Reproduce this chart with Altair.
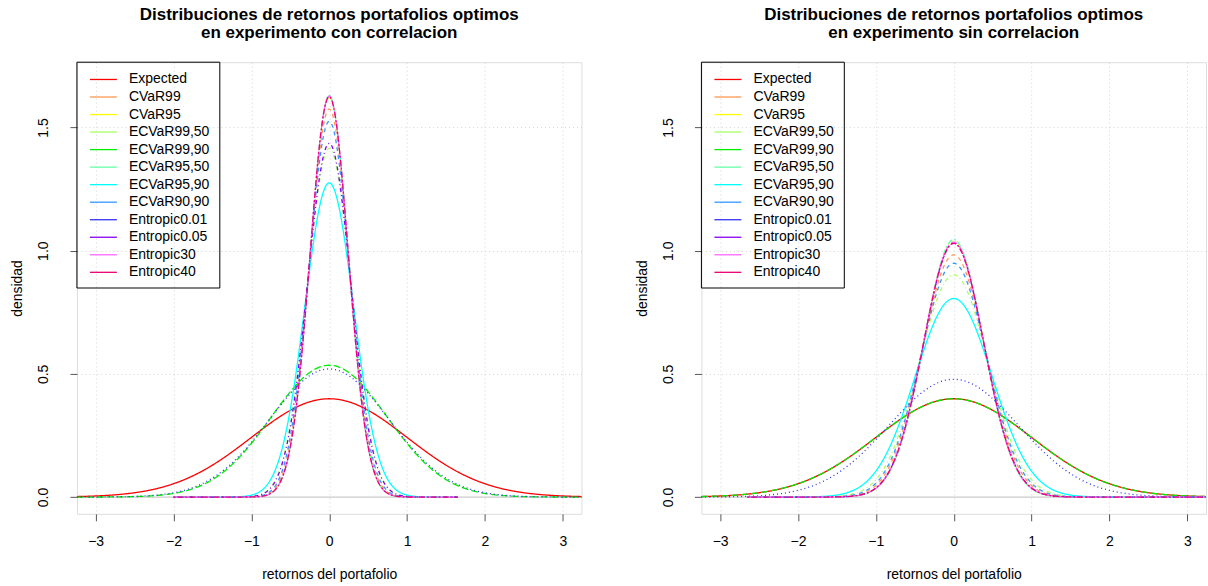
import numpy as np
import pandas as pd
import altair as alt

FONT = "Liberation Sans"

series = ["Expected", "CVaR99", "CVaR95", "ECVaR99,50", "ECVaR99,90", "ECVaR95,50",
          "ECVaR95,90", "ECVaR90,90", "Entropic0.01", "Entropic0.05", "Entropic30", "Entropic40"]
colors = ["#FF0000", "#FF9955", "#FFFF00", "#AAFF66", "#00EE00", "#66FFAA",
          "#00FFFF", "#3399FF", "#3333EE", "#8800EE", "#FF66FF", "#EE0077"]
dashes = [[1, 0], [4, 4], [1, 3], [1, 3, 4, 3], [7, 3], [2, 2, 6, 2],
          [1, 0], [4, 4], [1, 3], [1, 3, 4, 3], [7, 3], [2, 2, 6, 2]]

# peak density of each (normal-shaped) curve
peak_con = [0.399, 1.575, 1.62, 1.415, 0.535, 1.63, 1.275, 1.525, 0.52, 1.435, 1.627, 1.625]
peak_sin = [0.399, 0.983, 1.04, 0.902, 0.399, 1.045, 0.806, 0.949, 0.478, 1.03, 1.035, 1.03]
# x extent over which each curve is drawn
xmin_con = [-3.5, -2.0, -2.0, -2.0, -3.5, -2.0, -2.0, -2.0, -3.5, -2.0, -2.0, -2.0]
xmax_con = [3.5, 1.65, 1.65, 1.65, 3.5, 1.65, 1.65, 1.65, 3.5, 1.65, 1.65, 1.65]
xmin_sin = [-3.5, -2.65, -2.65, -2.65, -3.5, -2.65, -2.65, -2.65, -3.5, -2.65, -2.65, -2.65]
xmax_sin = [3.5, 3.5, 3.5, 3.5, 3.5, 3.5, 3.5, 3.5, 3.5, 3.5, 3.5, 3.5]

x_ticks = [-3, -2, -1, 0, 1, 2, 3]
y_ticks = [0, 0.5, 1.0, 1.5]

title_line1 = "Distribuciones de retornos portafolios optimos"
titles2 = ["en experimento con correlacion", "en experimento sin correlacion"]

W, H = 505, 452


def curves(peaks, xmins, xmaxs):
    rows = []
    for s, p, a, b in zip(series, peaks, xmins, xmaxs):
        sd = 1.0 / (p * np.sqrt(2 * np.pi))
        for x in np.linspace(a, b, 500):
            rows.append({"series": s, "x": float(x), "y": float(p * np.exp(-0.5 * (x / sd) ** 2))})
    return pd.DataFrame(rows)


cscale = alt.Scale(domain=series, range=colors)
dscale = alt.Scale(domain=series, range=dashes)
xscale = alt.Scale(domain=[-3.24, 3.24], nice=False, zero=False)
yscale = alt.Scale(domain=[-0.068, 1.765], nice=False, zero=False)


def panel(peaks, xmins, xmaxs, sub):
    df = curves(peaks, xmins, xmaxs)
    xaxis = alt.Axis(values=x_ticks, format="d", title="retornos del portafolio", domain=False,
                     tickSize=7, tickColor="#555555", labelPadding=14, labelFontSize=14,
                     labelColor="black", labelFont=FONT, titleFont=FONT, titleFontSize=14,
                     titleFontWeight="normal", titleColor="black", titleY=61,
                     titleBaseline="middle", grid=True, gridColor="#D3D3D3", gridDash=[1, 3])
    yaxis = alt.Axis(values=y_ticks, format=".1f", title="densidad", domain=False,
                     tickSize=7, tickColor="#555555", labelAngle=270, labelAlign="center",
                     labelBaseline="bottom", labelPadding=19, labelFontSize=14, labelColor="black",
                     labelFont=FONT, titleFont=FONT, titleFontSize=14, titleFontWeight="normal",
                     titleColor="black", titleAngle=270, titleX=-59, titleY=H / 2,
                     titleBaseline="middle", titleAlign="center", grid=True,
                     gridColor="#D3D3D3", gridDash=[1, 3])
    zero = alt.Chart(pd.DataFrame({"z": [0.0]})).mark_rule(color="#CCCCCC", strokeWidth=1.3).encode(
        y=alt.Y("z:Q", scale=yscale, axis=yaxis)
    )
    lines = alt.Chart(df).mark_line(strokeWidth=1.3, clip=True).encode(
        x=alt.X("x:Q", scale=xscale, axis=xaxis),
        y=alt.Y("y:Q", scale=yscale, axis=yaxis),
        color=alt.Color("series:N", scale=cscale, legend=None),
        strokeDash=alt.StrokeDash("series:N", scale=dscale, legend=None),
        order=alt.Order("x:Q"),
    )
    main = alt.layer(zero, lines)

    leg_df = pd.DataFrame({"series": series})
    box = alt.Chart(pd.DataFrame({"a": [0]})).mark_rect(
        fillOpacity=0, stroke="black", strokeWidth=1
    ).encode(x=alt.value(0), x2=alt.value(143), y=alt.value(0), y2=alt.value(226))
    lyscale = alt.Scale(type="point", domain=series, range=[17.3, 210.3], padding=0)
    leg_lines = alt.Chart(leg_df).mark_rule(strokeWidth=1.3).encode(
        y=alt.Y("series:N", scale=lyscale, axis=None),
        x=alt.value(13), x2=alt.value(40),
        color=alt.Color("series:N", scale=cscale, legend=None),
    )
    leg_text = alt.Chart(leg_df).mark_text(align="left", baseline="middle", font=FONT,
                                           fontSize=14, color="black").encode(
        y=alt.Y("series:N", scale=lyscale, axis=None),
        x=alt.value(52),
        text="series:N",
    )
    legend = alt.layer(box, leg_lines, leg_text)
    return alt.layer(main, legend).resolve_scale(y="independent").properties(
        width=W, height=H,
        title=alt.TitleParams(text=[title_line1, sub], fontSize=17, fontWeight="bold",
                              font=FONT, color="black", anchor="middle", offset=20,
                              lineHeight=18),
    )


left = panel(peak_con, xmin_con, xmax_con, titles2[0])
right = panel(peak_sin, xmin_sin, xmax_sin, titles2[1])

chart = alt.hconcat(left, right, spacing=120, bounds="flush").properties(
    padding={"left": 10, "top": 5, "right": 0, "bottom": 0}
).configure_view(stroke="black", strokeWidth=1).configure(font=FONT)

chart.save("out.html", embed_options={"renderer": "svg", "actions": False})
